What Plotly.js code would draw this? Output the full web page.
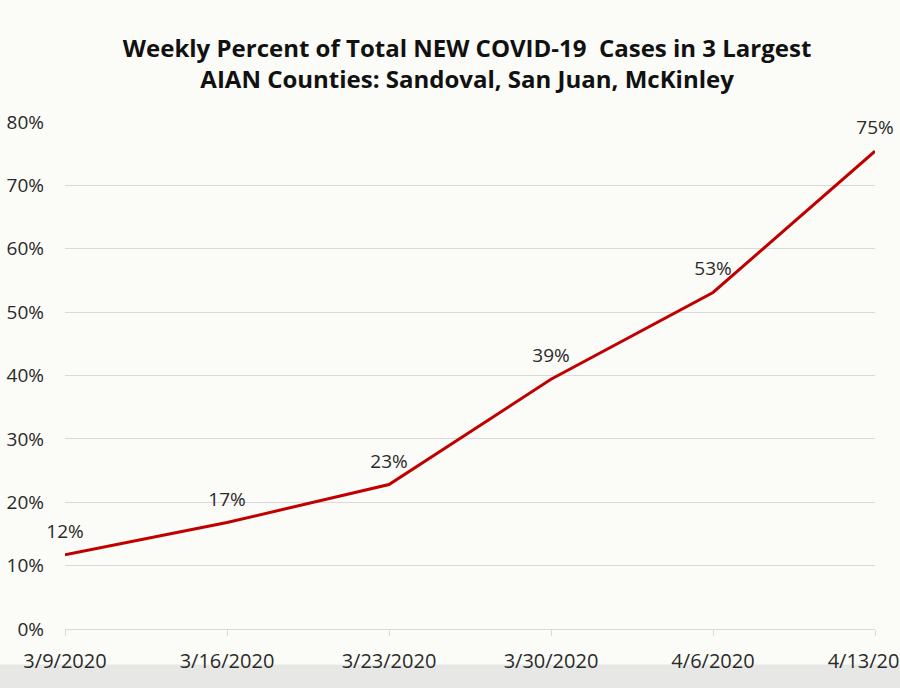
<!DOCTYPE html>
<html>
<head>
<meta charset="utf-8">
<script src="https://cdn.plot.ly/plotly-3.0.1.min.js"></script>
<style>html,body{margin:0;padding:0;background:#fbfbf7;}#chart{width:900px;height:688px;}</style>
</head>
<body>
<div id="chart"></div>
<script>
const weeks = ["3/9/2020", "3/16/2020", "3/23/2020", "3/30/2020", "4/6/2020", "4/13/2020"];
const percentNew = [11.7, 16.8, 22.8, 39.4, 53.1, 75.4];
const yTickVals = [0, 10, 20, 30, 40, 50, 60, 70, 80];
const yTickText = ["0%", "10%", "20%", "30%", "40%", "50%", "60%", "70%", "80%"];
const titleText = "Weekly Percent of Total NEW COVID-19  Cases in 3 Largest<br>AIAN Counties: Sandoval, San Juan, McKinley";

const labels = percentNew.map(v => Math.round(v) + "%");

const trace = {
  x: weeks,
  y: percentNew,
  type: "scatter",
  mode: "lines+markers+text",
  text: labels,
  textposition: "top center",
  textfont: {family: "Open Sans", size: 19, color: "#2a2a2a"},
  line: {color: "#c00000", width: 3},
  marker: {size: 18, color: "rgba(0,0,0,0)"},
  cliponaxis: false,
  hoverinfo: "skip"
};

const layout = {
  width: 900,
  height: 688,
  paper_bgcolor: "#fbfbf7",
  plot_bgcolor: "#fbfbf7",
  margin: {l: 65, r: 25, t: 122, b: 59},
  showlegend: false,
  title: {
    text: titleText,
    font: {family: "Open Sans", size: 24, color: "#111111", weight: "bold"},
    xref: "container", yref: "container",
    x: 0.519, y: 0.917, xanchor: "center", yanchor: "middle"
  },
  xaxis: {
    type: "category",
    range: [0, 5],
    showgrid: false,
    showline: true,
    linecolor: "#d9d9d9",
    linewidth: 1,
    ticks: "outside",
    ticklen: 6,
    tickcolor: "#d9d9d9",
    ticklabelstandoff: 8,
    tickfont: {family: "Open Sans", size: 20, color: "#2a2a2a"},
    zeroline: false,
    fixedrange: true
  },
  yaxis: {
    range: [0, 80],
    tickvals: yTickVals,
    ticktext: yTickText,
    showgrid: true,
    gridcolor: "#d9d9d9",
    gridwidth: 1,
    zeroline: false,
    showline: false,
    ticks: "",
    ticklabelstandoff: 20,
    tickfont: {family: "Open Sans", size: 19, color: "#2a2a2a"},
    fixedrange: true
  },
  shapes: [{
    type: "rect", xref: "paper", yref: "paper", layer: "below",
    x0: -0.1, x1: 1.05, y0: -0.12, y1: -0.07,
    fillcolor: "#e7e7e5", line: {width: 0}
  }]
};

Plotly.newPlot("chart", [trace], layout, {displayModeBar: false, staticPlot: true});
</script>
</body>
</html>
